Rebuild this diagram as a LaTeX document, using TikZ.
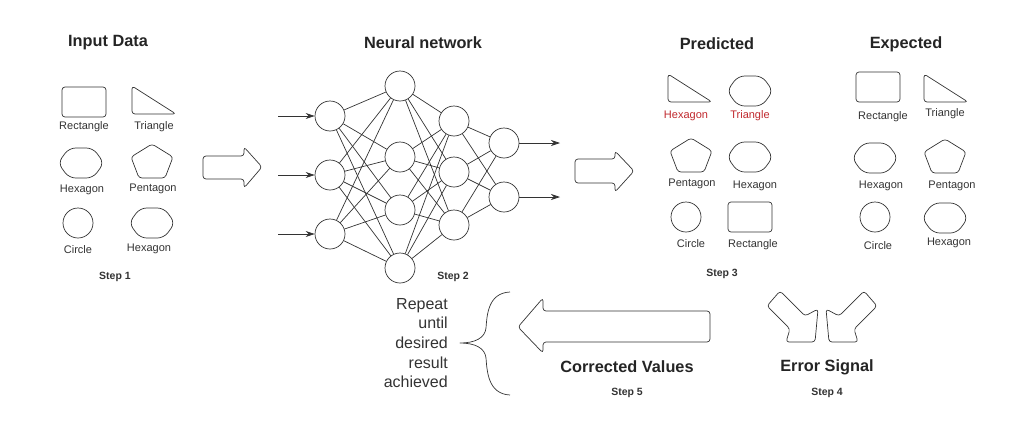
\documentclass[tikz,border=0pt]{standalone}
\usepackage{fontspec}
\setmainfont{Liberation Sans}
\usetikzlibrary{arrows.meta}
\definecolor{Ink}{HTML}{333333}
\definecolor{Wrong}{HTML}{C0282D}

\begin{document}
\begin{tikzpicture}[x=1pt,y=-1pt,>={Stealth[length=9pt,width=6pt]},
    line/.style={draw=Ink,line width=0.7pt,line join=round},
    shp/.style={line,rounded corners=3pt},
    lbl/.style={font=\fontsize{11}{13}\selectfont,text=Ink,inner sep=0pt},
    bad/.style={lbl,text=Wrong},
    ttl/.style={font=\fontsize{16.3}{20}\selectfont\bfseries,text=Ink!70!black,inner sep=0pt},
    stp/.style={font=\fontsize{10.5}{12}\selectfont\bfseries,text=Ink,inner sep=0pt},
    neuron/.style={line,circle,minimum size=30pt,inner sep=0pt},
    rectsh/.pic={\draw[shp] (-22,-15) rectangle (22,15);},
    trish/.pic={\draw[shp] (-22,-14) -- (22,14) -- (-22,14) -- cycle;},
    hexsh/.pic={\draw[line,rounded corners=6.5pt] (-23,0) -- (-12,-15) -- (12,-15) -- (23,0) -- (12,15) -- (-12,15) -- cycle;},
    pentsh/.pic={\draw[shp] (0,-17) -- (21,-4) -- (13,17) -- (-13,17) -- (-21,-4) -- cycle;},
    circsh/.pic={\draw[line] (0,0) circle (15);}]
  \useasboundingbox (0,0) rectangle (1024,434);

  % titles
  \node[ttl] (tin) at (108,43) {Input Data};
  \node[ttl] (tnn) at (423,43) {Neural network};
  \node[ttl] (tpr) at (717,44) {Predicted};
  \node[ttl] (tex) at (906,44) {Expected};

  % step 1: input data
  \pic at (84,102) {rectsh};   \node[lbl] (i1) at (84,127) {Rectangle};
  \pic at (154,100) {trish};   \node[lbl] (i2) at (154,127) {Triangle};
  \pic at (81,163) {hexsh};    \node[lbl] (i3) at (82,190) {Hexagon};
  \pic at (152,161) {pentsh};  \node[lbl] (i4) at (153,189) {Pentagon};
  \pic at (78,223) {circsh};   \node[lbl] (i5) at (78,250) {Circle};
  \pic at (152,223) {hexsh};   \node[lbl] (i6) at (149,249) {Hexagon};
  \node[stp] (s1) at (115,277) {Step 1};

  \draw[shp] (203,156) -- (244,156) -- (244,147) -- (262,167) -- (244,188) -- (244,179) -- (203,179) -- cycle;

  % step 2: network
  \foreach \y [count=\i] in {116,175,234} {
    \node[neuron] (a\i) at (330,\y) {};
    \coordinate (in\i) at (278,\y);
    \draw[line,->] (in\i) -- (a\i);}
  \foreach \y [count=\i] in {86,157,210,268} \node[neuron] (b\i) at (400,\y) {};
  \foreach \y [count=\i] in {121,172,225} \node[neuron] (c\i) at (454,\y) {};
  \foreach \y [count=\i] in {143,197} {
    \node[neuron] (d\i) at (504,\y) {};
    \coordinate (out\i) at (560,\y);
    \draw[line,->] (d\i) -- (out\i);}
  \foreach \i in {1,2,3} \foreach \j in {1,...,4} \draw[line] (a\i) -- (b\j);
  \foreach \i in {1,...,4} \foreach \j in {1,2,3} \draw[line] (b\i) -- (c\j);
  \foreach \i in {1,2,3} \foreach \j in {1,2} \draw[line] (c\i) -- (d\j);
  \node[stp] (s2) at (453,277) {Step 2};

  \draw[shp] (575,159) -- (615,159) -- (615,151) -- (634,171) -- (615,192) -- (615,183) -- (575,183) -- cycle;

  % step 3: predicted vs expected
  \pic at (690,88) {trish};    \node[bad] (p1) at (686,116) {Hexagon};
  \pic at (750,91) {hexsh};    \node[bad] (p2) at (750,116) {Triangle};
  \pic at (691,155) {pentsh};  \node[lbl] (p3) at (692,184) {Pentagon};
  \pic at (750,157) {hexsh};   \node[lbl] (p4) at (755,186) {Hexagon};
  \pic at (686,217) {circsh};  \node[lbl] (p5) at (691,244) {Circle};
  \pic at (750,217) {rectsh};  \node[lbl] (p6) at (753,245) {Rectangle};
  \node[stp] (s3) at (722,274) {Step 3};

  \pic at (878,87) {rectsh};   \node[lbl] (e1) at (883,117) {Rectangle};
  \pic at (946,88) {trish};    \node[lbl] (e2) at (945,114) {Triangle};
  \pic at (875,158) {hexsh};   \node[lbl] (e3) at (881,186) {Hexagon};
  \pic at (945,156) {pentsh};  \node[lbl] (e4) at (952,186) {Pentagon};
  \pic at (875,217) {circsh};  \node[lbl] (e5) at (878,246) {Circle};
  \pic at (945,218) {hexsh};   \node[lbl] (e6) at (949,243) {Hexagon};

  % step 4: error signal
  \draw[shp] (780,291) -- (767,306) -- (790,329) -- (786,342) -- (815,342) -- (818,309) -- (805,316) -- cycle;
  \draw[shp] (864,291) -- (877,306) -- (854,329) -- (858,342) -- (829,342) -- (826,309) -- (839,316) -- cycle;
  \node[ttl] (err) at (827,367) {Error Signal};
  \node[stp] (s4) at (827,393) {Step 4};

  % step 5: corrected values
  \draw[shp] (710,311) -- (710,342) -- (543,342) -- (543,353) -- (518,327) -- (543,298) -- (543,311) -- cycle;
  \node[ttl] (cor) at (627,367) {Corrected Values};
  \node[stp] (s5) at (627,393) {Step 5};

  \draw[line] (510,292) .. controls (488,293) and (487,315) .. (486,328)
    .. controls (485,338) and (475,343) .. (460,343)
    .. controls (475,343) and (485,348) .. (486,358)
    .. controls (487,371) and (488,394) .. (510,395);
  \node[anchor=east,align=right,text=Ink,inner sep=0pt,font=\fontsize{16}{19.7}\selectfont] (rep) at (448,343) {Repeat\\until\\desired\\result\\achieved};
\end{tikzpicture}
\end{document}
